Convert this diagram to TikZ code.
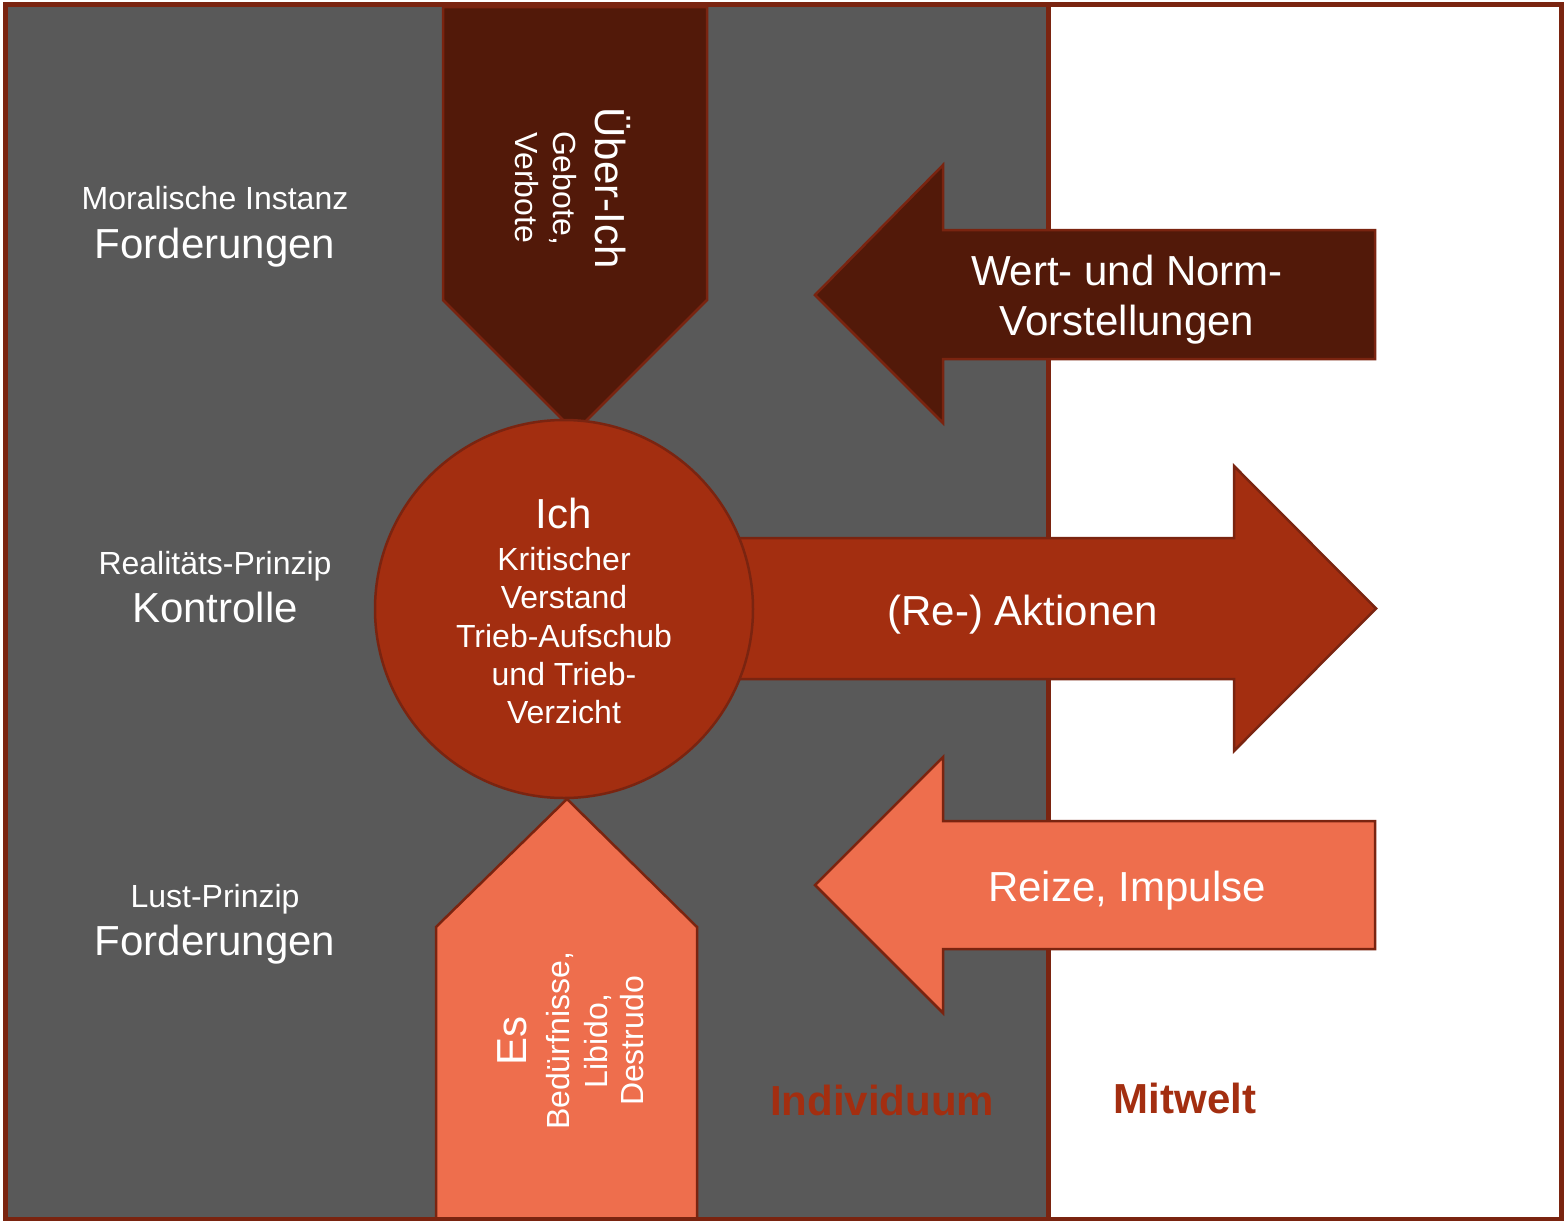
\documentclass[tikz,border=0pt]{standalone}
\usepackage{fontspec}
\setmainfont{Liberation Sans}
\definecolor{panel}{HTML}{595959}
\definecolor{rim}{HTML}{7A2410}
\definecolor{deep}{HTML}{521909}
\definecolor{rust}{HTML}{A32E10}
\definecolor{coral}{HTML}{EE6E4D}
\begin{document}
\begin{tikzpicture}[x=1pt,y=-1pt,
  outlined/.style={draw=rim, line width=2.5pt, line join=miter},
  big/.style={font=\fontsize{42}{50}\selectfont, text=white, inner sep=0pt},
  small/.style={font=\fontsize{32}{38.5}\selectfont, text=white, inner sep=0pt},
  caption/.style={font=\bfseries\fontsize{42}{50}\selectfont, text=rust, inner sep=0pt}]
\useasboundingbox (0,0) rectangle (1564,1221);
\fill[white] (0,0) rectangle (1564,1221);
% the individual's side
\fill[panel] (5.5,4.5) rectangle (1048,1219);
\draw[rim, line width=5pt] (1048,4.5) -- (1048,1219);

% Ueber-Ich: arrow pointing down onto the Ich
\draw[outlined, fill=deep] (443,7) -- (707,7) -- (707,300) -- (575,432) -- (443,300) -- cycle;
% Es: arrow pointing up onto the Ich
\draw[outlined, fill=coral] (436,1219) -- (436,927) -- (567,799) -- (697,927) -- (697,1219);

% (Re-) Aktionen: arrow from the Ich out to the Mitwelt
\draw[outlined, fill=rust] (564,538) -- (1234,538) -- (1234,466) -- (1376,608.5)
  -- (1234,751) -- (1234,679) -- (564,679) -- cycle;

% the Ich
\node[circle, outlined, fill=rust, minimum size=378pt, inner sep=0pt] (ich) at (564,609) {};

% Wert- und Normvorstellungen: arrow from the Mitwelt into the individual
\draw[outlined, fill=deep] (1375,230) -- (943,230) -- (943,165) -- (815,295)
  -- (943,423) -- (943,359) -- (1375,359) -- cycle;
% Reize, Impulse: arrow from the Mitwelt into the individual
\draw[outlined, fill=coral] (1375,821) -- (943,821) -- (943,757) -- (815,885)
  -- (943,1013) -- (943,949) -- (1375,949) -- cycle;

% outer frame
\draw[rim, line width=5pt] (5.5,4.5) rectangle (1561,1219);

% left-hand labels
\node[small, anchor=base] (moral) at (215,209) {Moralische Instanz};
\node[big, anchor=base] (fordoben) at (215,258) {Forderungen};
\node[small, anchor=base] (real) at (215,574) {Realitäts-Prinzip};
\node[big, anchor=base] (kontrolle) at (215,622) {Kontrolle};
\node[small, anchor=base] (lust) at (215,907) {Lust-Prinzip};
\node[big, anchor=base] (fordunten) at (215,955) {Forderungen};

% text of the Ich
\node[big, anchor=base] (ichname) at (564,528) {Ich};
\node[small, anchor=base] (ich1) at (564,570) {Kritischer};
\node[small, anchor=base] (ich2) at (564,608.5) {Verstand};
\node[small, anchor=base] (ich3) at (564,647) {Trieb-Aufschub};
\node[small, anchor=base] (ich4) at (564,685) {und Trieb-};
\node[small, anchor=base] (ich5) at (564,723) {Verzicht};

% text of the Ueber-Ich, reading downwards
\node[big, rotate=-90, anchor=base] (ueber) at (595,188) {Über-Ich};
\node[small, rotate=-90, anchor=base] (ueber1) at (553,188) {Gebote,};
\node[small, rotate=-90, anchor=base] (ueber2) at (515,188) {Verbote};

% text of the Es, reading upwards
\node[big, rotate=90, anchor=base] (es) at (526,1041) {Es};
\node[small, rotate=90, anchor=base] (es1) at (569,1041) {Bedürfnisse,};
\node[small, rotate=90, anchor=base] (es2) at (607,1041) {Libido,};
\node[small, rotate=90, anchor=base] (es3) at (643,1041) {Destrudo};

% arrow texts
\node[big, anchor=base] (aktionen) at (1023,625) {(Re-) Aktionen};
\node[big, anchor=base] (wert1) at (1127,285) {Wert- und Norm-};
\node[big, anchor=base] (wert2) at (1127,335) {Vorstellungen};
\node[big, anchor=base] (reize) at (1127,901) {Reize, Impulse};

% the two sides
\node[caption, anchor=base] (indiv) at (882,1115) {Individuum};
\node[caption, anchor=base] (mitwelt) at (1185,1113) {Mitwelt};
\end{tikzpicture}
\end{document}
